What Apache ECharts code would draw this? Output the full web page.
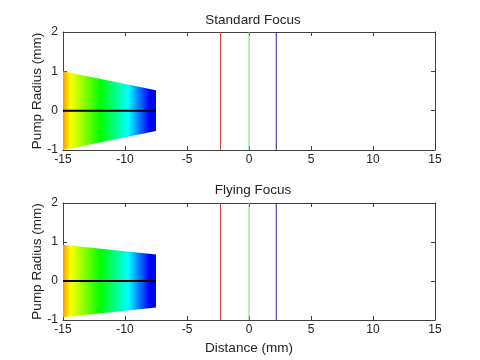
<!DOCTYPE html>
<html><head><meta charset="utf-8">
<script src="https://cdn.jsdelivr.net/npm/echarts@6/dist/echarts.min.js"></script>
<style>html,body{margin:0;padding:0;background:#fff}#c{width:480px;height:360px}</style>
</head><body><div id="c"></div>
<script>
// Data
const titles = ['Standard Focus', 'Flying Focus'];
const xTicks = [-15, -10, -5, 0, 5, 10, 15];
const yTicks = [-1, 0, 1, 2];
// beam envelope: [distance, radius]
const beamStd = [[-15, 1.0], [-7.5, 0.52]];
const beamFly = [[-15, 0.93], [-7.5, 0.68]];
// focus line positions
const focusRed = -2.3;
const focusGreen = 0;
const focusBlue = 2.2;
const yRange = [-1, 2];

const chart = echarts.init(document.getElementById('c'));
const font = 'Liberation Sans, Arial, sans-serif';
const frame = '#404040';

const grids = [
  {left: 63, right: 45, top: 32, height: 118},
  {left: 63, right: 45, top: 203, height: 117}
];

function xAx(gi, pos, labels) {
  return {type:'value', gridIndex: gi, position: pos, min: xTicks[0], max: xTicks[xTicks.length-1], interval: 5,
    axisLine:{show:true, onZero:false, lineStyle:{color:frame, width:1}},
    axisTick:{show:true, inside:true, length:4, lineStyle:{color:frame}},
    axisLabel:{show:labels, color:'#222', fontFamily:font, fontSize:12, margin:4},
    splitLine:{show:false},
    name: (labels && gi===1) ? 'Distance (mm)' : '', nameLocation:'middle', nameGap:21, nameMoveOverlap:false,
    nameTextStyle:{color:'#222', fontFamily:font, fontSize:13.5}};
}
function yAx(gi, pos, labels) {
  return {type:'value', gridIndex: gi, position: pos, min: yRange[0], max: yRange[1], interval: 1,
    axisLine:{show:true, onZero:false, lineStyle:{color:frame, width:1}},
    axisTick:{show:true, inside:true, length:4, lineStyle:{color:frame}},
    axisLabel:{show:labels, color:'#222', fontFamily:font, fontSize:12, margin:5},
    splitLine:{show:false},
    name: labels ? 'Pump Radius (mm)' : '', nameLocation:'middle', nameGap:19, nameMoveOverlap:false,
    nameTextStyle:{color:'#222', fontFamily:font, fontSize:13.5}};
}

const gradient = {type:'linear', x:0, y:0, x2:1, y2:0, colorStops:[
  {offset:0, color:'#ff9900'},
  {offset:0.08, color:'#ffff00'},
  {offset:0.4, color:'#00ff00'},
  {offset:0.7, color:'#00ffff'},
  {offset:0.93, color:'#0000ff'},
  {offset:1, color:'#0010d0'}
]};

function beamSeries(beam, gi) {
  return {type:'custom', xAxisIndex: gi*2, yAxisIndex: gi*2, data: beam, z: 2,
    renderItem: function(params, api) {
      if (params.dataIndex !== 0) return null;
      const pts = [];
      beam.forEach(p => pts.push(api.coord([p[0], p[1]])));
      for (let i = beam.length-1; i >= 0; i--) pts.push(api.coord([beam[i][0], -beam[i][1]]));
      return {type:'polygon', shape:{points: pts}, style:{fill: gradient, stroke: null}};
    },
    silent:true, animation:false};
}
function vline(x, color, gi) {
  return {type:'line', xAxisIndex: gi*2, yAxisIndex: gi*2, data:[[x, yRange[0]],[x, yRange[1]]],
    symbol:'none', lineStyle:{color:color, width:1}, z:3, silent:true, animation:false};
}
function axisLine(beam, gi) {
  return {type:'line', xAxisIndex: gi*2, yAxisIndex: gi*2, data: beam.map(p => [p[0], 0]),
    symbol:'none', lineStyle:{color:'#000', width:2}, z:4, silent:true, animation:false};
}

const xAxes = [], yAxes = [], series = [];
[beamStd, beamFly].forEach((beam, gi) => {
  xAxes.push(xAx(gi, 'bottom', true), xAx(gi, 'top', false));
  yAxes.push(yAx(gi, 'left', true), yAx(gi, 'right', false));
  series.push(beamSeries(beam, gi), axisLine(beam, gi),
    vline(focusRed, '#d83c3c', gi), vline(focusGreen, '#6ee06e', gi), vline(focusBlue, '#23238f', gi));
});

chart.setOption({
  animation:false,
  title: titles.map((t, i) => ({text:t, left: 248, textAlign:'center', top: i===0 ? 8 : 178,
    textStyle:{color:'#222', fontFamily:font, fontSize:13.5, fontWeight:'normal'}})),
  grid: grids,
  xAxis: xAxes,
  yAxis: yAxes,
  series: series
});
</script></body></html>
